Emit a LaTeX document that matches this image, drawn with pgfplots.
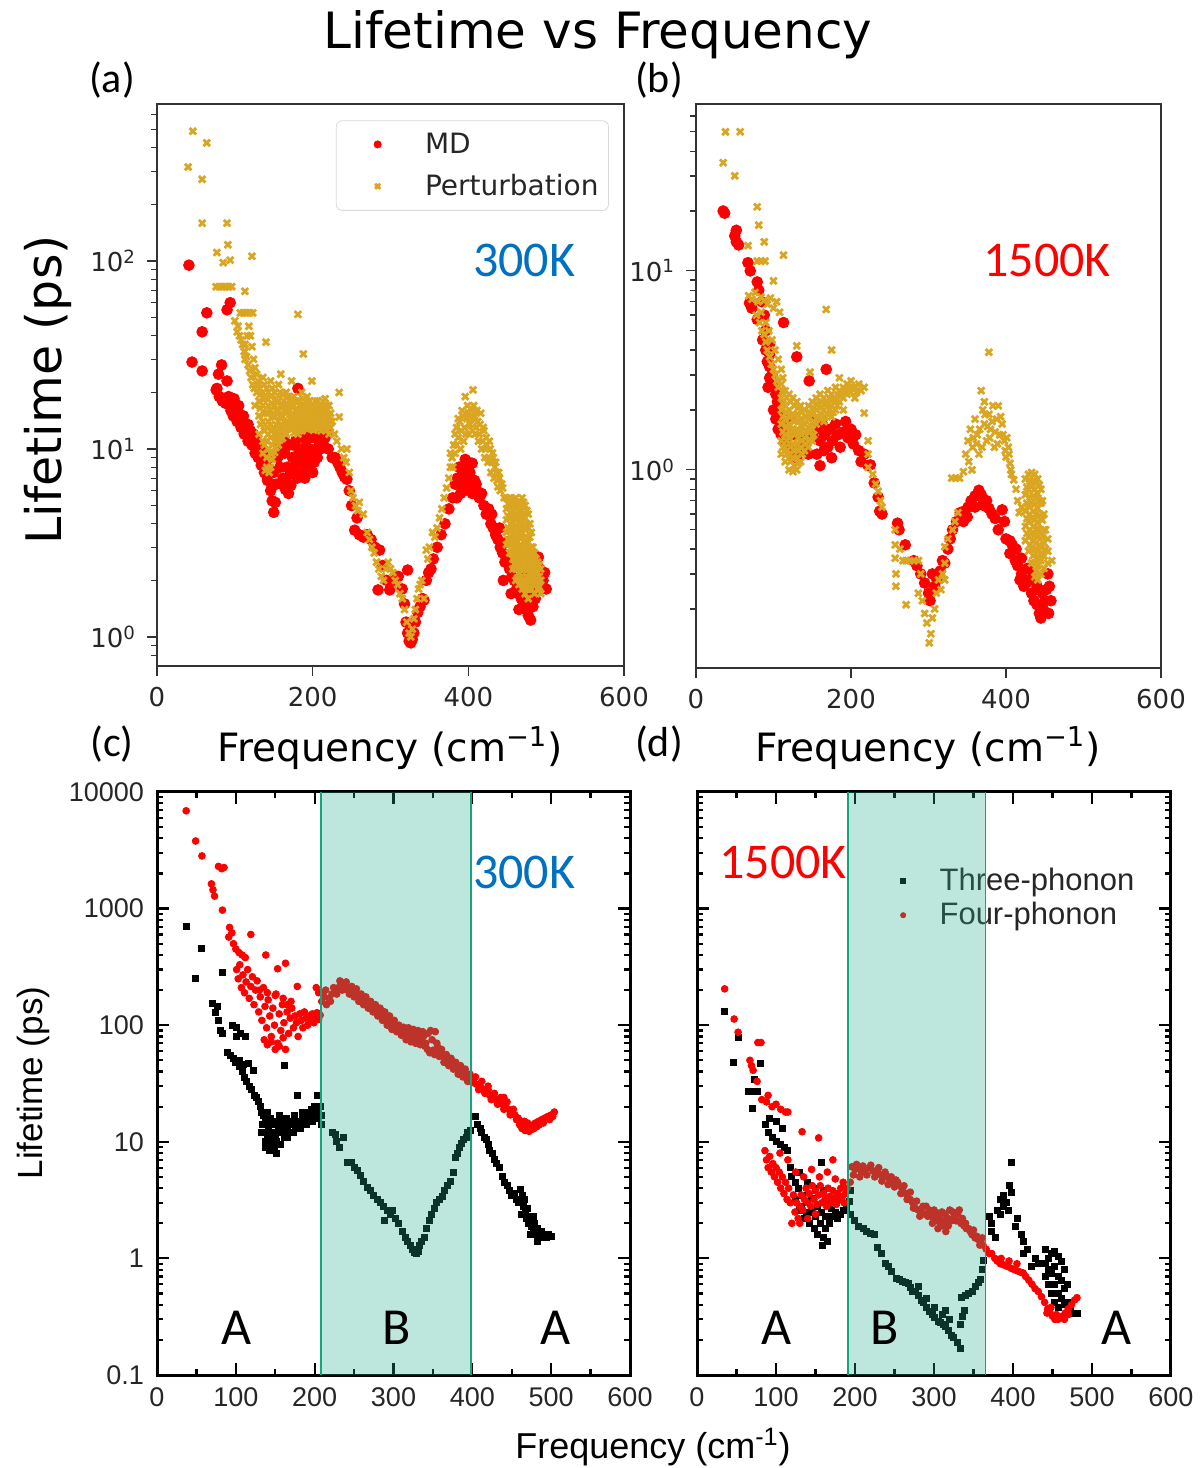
\documentclass[border=0pt]{standalone}
\usepackage{fontspec}
\setmainfont{DejaVu Sans}
\newfontfamily\calfont{Carlito}
\newfontfamily\arifont{Liberation Sans}
\usepackage{pgfplots}
\pgfplotsset{compat=1.18}
\definecolor{mdred}{RGB}{255,0,0}
\definecolor{gold}{RGB}{218,165,32}
\definecolor{kblue}{RGB}{0,112,192}
\definecolor{band}{RGB}{38,172,138}
\definecolor{bandedge}{RGB}{20,165,125}
\begin{document}
\begin{tikzpicture}
\useasboundingbox (0,0) rectangle (601.5pt,734pt);
% ---------- (a) ----------
\begin{axis}[scale only axis, anchor=south west, at={(78.5pt,401pt)}, width=233.5pt, height=281pt,
  ymode=log, xmin=0, xmax=600, ymin=0.701, ymax=684,
  xtick={0,200,400,600}, tick align=outside, xtick pos=left, ytick pos=left,
  major tick length=5pt, minor tick length=3pt,
  axis line style={black!80, line width=0.7pt},
  tick style={black!80, line width=0.6pt},
  ticklabel style={font=\fontsize{13}{13}\selectfont, black!85},
  xticklabel style={yshift=-2pt}, yticklabel style={xshift=-2pt},
  /pgf/number format/assume math mode=true,
  ytick={1,10,100},
  yticklabels={10\textsuperscript{0},10\textsuperscript{1},10\textsuperscript{2}},
  minor ytick={0.8,0.9,2,3,4,5,6,7,8,9,20,30,40,50,60,70,80,90,200,300,400,500,600},
  legend style={at={(0.383,0.971)}, anchor=north west, draw=black!15, rounded corners=3pt,
    fill=white, font=\fontsize{14}{16}\selectfont, text=black!85, row sep=5pt,
    inner xsep=3pt, inner ysep=4pt},
  legend cell align=left,
  legend image code/.code={\path (0pt,0pt) (38pt,0pt); \draw[mark repeat=2,mark phase=2,#1,mark size=1.8pt] plot coordinates {(0pt,0pt)(17pt,0pt)(34pt,0pt)};}]
\addplot[only marks, mark=*, mark size=2.7pt, color=mdred] coordinates {
(41,95)(45,29)(58,42)(58,26)(64,53)(90,55)(94,60)(83,28)(79,25)(90,23)(77,21)(76,20.6)(181,21)
(80,19)(84,18)(88,17.5)(92,19)(95,16)(98,15)(100,17)(103,14)(105,15.5)(108,13)(110,14.5)(112,12)(115,13)(117,11)(120,12.5)(122,10.5)(124,12)(126,9.5)(128,11)(130,9)(132,10)(134,8.2)(136,9.5)(138,7.5)(140,8.5)(142,6.8)(144,7.8)(146,6)(148,5.3)(150,4.6)(152,5.2)(147,6.5)(141,7.2)(135,9)(129,10)(123,11.5)(117,13.5)(111,15)(105,17)(99,18.5)
(155,9)(158,8)(160,10)(162,7)(164,9.5)(165,6.1)(167,8)(169,5.8)(170,10.5)(172,7.5)(174,9)(176,8)(178,11)(180,7)(182,9.5)(184,8.5)(186,10)(188,7.5)(190,9)(192,11)(194,8)(196,10)(198,9)(200,11.5)(202,8.5)(204,10)(206,9)(208,11)(210,10)(212,12)(214,10.5)(216,11.5)(218,12.2)(220,10)(157,11)(163,11.5)(175,10.5)(185,11.8)(195,12)(205,12.5)(150,7.5)(153,6.5)(145,9)(160,6.5)(166,7)(172,6.4)(178,7.5)(190,7)(200,7.5)
(225,9)(229,9)(232,8.5)(235,8)(238,7.5)(241,7.1)(244,6.9)(247,6)(250,5)(254,3.7)(257,4.3)(260,3.5)(265,3.4)(270,3.5)(275,3.3)(280,3.0)(284,1.78)(286,2.9)(290,2.4)(295,2.0)(299,1.78)(305,2.0)(310,2.1)(315,1.8)(318,1.5)(320,1.2)(322,1.05)(324,0.95)(326,0.93)(328,0.97)(330,1.05)(332,1.2)(335,1.35)(338,1.45)(341,1.6)(343,1.57)(346,2.0)(349,2.2)(352,2.3)(322,2.27)(355,2.6)(360,3.0)(365,3.5)(370,4.0)(375,4.8)(380,5.5)(383,6.5)(386,7)(390,6.5)(393,7.5)(396,8.8)(399,8.0)(402,7.5)(405,8.4)(408,6.8)(411,6.0)(414,5.5)(417,5.8)(420,5.0)(423,4.5)(426,4.8)(429,4.0)(432,3.8)(435,3.5)(438,3.3)(441,3.0)(444,2.8)(447,2.5)(450,2.7)(453,2.3)(456,2.1)(459,2.0)(462,1.8)(465,1.7)(468,1.6)(471,1.5)(474,1.4)(477,1.3)(480,1.23)(483,1.45)(486,1.6)(490,2.66)(492,2.3)(494,2.1)(496,2.0)(498,2.2)(500,1.8)(488,1.9)(484,1.7)(470,2.2)(460,2.5)(450,3.2)(440,3.8)(430,4.5)(445,2.0)(455,1.7)(465,1.4)(475,1.6)(478,1.9)
(385,5.5)(390,5.8)(395,6)(400,6.5)(405,5.8)(410,6.5)(395,7)(388,8)(400,8.5)
};
\addlegendentry{MD}
\addplot[only marks, mark=x, mark size=2.3pt, line width=1.4pt, color=gold] coordinates {
(40,316)(46,490)(58,272)(64,425)(58,159)(90,159)(91,122)(77,111)(85,98)(94,101)(122,106)(76,73)(80,73)(84,73)(88,73)(92,73)(96,73)(113,69)(107,53)(111,53)(115,53)(119,53)(123,53)(181,52)(104,45)(120,40)(140,37)(113,36)(113,33)(113,30)(188,32)(159,25)(173,23)(199,23)(234,20)(193,19)
(100,48)(103,42)(106,40)(108,38)(110,36)(112,33)(115,31)(117,28)(119,26)(121,24)(123,22)(125,21)(118,45)(116,40)(122,35)(124,30)(126,27)(128,25)(130,23)(132,21)
(131,22)(131,18)(131,15)(131,12)
(136,24)(136,20)(136,17)(136,14)(136,11)(136,9.5)
(141,21)(141,18.5)(141,15.5)(141,13)(141,11)(141,9)(141,8)
(146,23)(146,19)(146,16)(146,13.5)(146,11.5)(146,9.5)(146,8)
(151,20)(151,17)(151,14.8)(151,12.8)(151,11)(151,9.6)
(156,22)(156,18)(156,16)(156,14)(156,12)(156,10.5)
(161,19.5)(161,17)(161,15)(161,13)(161,11.4)
(166,20)(166,17.5)(166,15.5)(166,13.5)(166,12)
(171,18)(171,16)(171,14.5)(171,13)
(176,19)(176,17)(176,15)(176,13.5)(176,12.2)
(181,18)(181,16)(181,14.5)(181,13)(181,12)
(186,20)(186,17)(186,15)(186,13.5)(186,12.5)
(191,17)(191,15.5)(191,14)(191,13)
(196,18)(196,16)(196,14.5)(196,13.2)
(201,17)(201,15)(201,13.8)(201,12.6)
(206,18)(206,16.5)(206,14.5)(206,13)
(211,17)(211,15.5)(211,14)(211,12.5)
(216,18.5)(216,16)(216,14.5)(216,13)
(221,17)(221,15)(221,13.5)(221,12)
(133,19.5)(133,13.5)(138,22)(138,18.5)(138,15.5)(138,10.5)(143,20)(143,17)(143,14)(143,12)(148,21)(148,15)(148,12.5)(148,10.5)(148,8.8)(153,18.5)(153,16)(153,11.8)(153,10.2)(158,20)(158,17)(158,13)(158,11.2)(163,18)(163,16)(163,14)(168,19)(168,16.5)(168,12.8)(173,18.5)(173,15)(173,13.5)(178,18)(178,16)(178,12.8)(183,17)(183,14)(183,12.5)(188,18.5)(188,16)(188,12.8)(193,17.5)(193,14.5)(193,13)(198,17)(198,15.5)(198,12.8)(203,18)(203,14.5)(203,13)(208,17)(208,15.5)(208,12.8)(213,18)(213,15)(213,13.2)(218,17)(218,15.5)(218,12.6)(223,15.5)(223,14)
(133,16.5)(138,12.5)(143,10)(148,17.5)(153,13.5)(158,15)(163,12.2)(168,14)(173,16.8)(178,14)(183,15.5)(188,13.8)(193,16)(198,14)(203,16)(208,14)(213,16.5)(218,14)(223,13)(128,20)(126,17)(139,7.7)(144,7.5)
(225,14)(228,12)(231,11)(234,14.8)(237,10)(240,9)(243,8.5)(244,10)(247,7.5)(249,6.0)(252,5.5)(255,5.0)(258,4.7)(260,5.2)(265,4.5)(270,3.6)(273,3.3)(276,3.0)(279,2.8)(282,2.5)(285,2.3)(288,2.1)(291,2.0)(294,2.3)(297,2.5)(300,2.3)(303,2.2)(306,2.0)(309,1.9)(312,1.7)(315,1.6)(318,1.4)(321,1.2)(324,1.05)(326,1.0)(328,1.1)(330,1.25)(332,1.4)(334,1.6)(336,1.8)(338,1.9)(340,2.0)(343,1.6)(346,2.9)(348,2.6)(350,3.0)(354,3.6)(357,3.4)(360,3.8)(363,4.3)(366,4.8)(369,5.5)(372,6.2)(375,7)(377,8)(379,9)(381,10.5)(383,12)(385,13)(387,11.5)(389,14)(391,12.5)(393,15)(395,13)(396,19)(398,14.5)(400,15.5)(402,13.5)(404,14.5)(406,20.6)(408,15)(410,13)(412,14)(414,12)(416,15.5)(418,11)(420,12.5)(422,10)(424,10.5)(426,9)(428,10)(430,8.5)(432,9)(434,8)(436,7.5)(438,6.3)(440,7)(443,6.5)(446,5.5)
(377,9.5)(380,8)(383,9.5)(385,10.5)(387,14.5)(390,10)(392,16)(394,11)(397,12)(399,17)(401,12)(403,16.5)(405,12.5)(407,17)(409,12)(411,16)(413,11)(415,13.5)(417,10)(419,13)(421,9)(423,11.5)(425,8.5)(427,11)(429,7.5)(431,9.5)(433,7)(435,8.5)(437,6.8)(439,7.5)(441,6)(444,6.2)
(449,5.5)(449,4.8)(449,4.2)(449,3.6)(449,3.1)
(453,5.5)(453,4.9)(453,4.3)(453,3.7)(453,3.2)(453,2.8)
(457,5.4)(457,4.7)(457,4.1)(457,3.5)(457,3.0)(457,2.6)(457,2.3)
(461,5.5)(461,4.8)(461,4.2)(461,3.6)(461,3.1)(461,2.7)(461,2.3)(461,2.0)
(465,5.3)(465,4.6)(465,4.0)(465,3.4)(465,2.9)(465,2.5)(465,2.2)(465,1.9)
(469,5.5)(469,4.7)(469,4.0)(469,3.4)(469,2.9)(469,2.5)(469,2.1)(469,1.8)
(473,5.0)(473,4.3)(473,3.7)(473,3.1)(473,2.7)(473,2.3)(473,2.0)(473,1.7)
(477,4.5)(477,3.8)(477,3.2)(477,2.7)(477,2.3)(477,2.0)(477,1.8)(477,1.6)
(481,3.6)(481,3.0)(481,2.6)(481,2.3)(481,2.0)(481,1.8)
(485,2.8)(485,2.4)(485,2.1)(485,1.9)(485,1.7)
(489,2.5)(489,2.2)(489,2.0)(489,1.8)
(493,2.3)(493,2.0)(493,1.7)
(451,5.1)(451,4.4)(451,3.8)(451,3.3)(455,5.1)(455,4.4)(455,3.8)(455,3.3)(455,2.8)(459,5.1)(459,4.4)(459,3.8)(459,3.3)(459,2.8)(459,2.45)(463,5.0)(463,4.3)(463,3.7)(463,3.2)(463,2.7)(463,2.35)(463,2.05)(467,5.0)(467,4.3)(467,3.7)(467,3.1)(467,2.7)(467,2.3)(467,2.0)(471,5.2)(471,4.4)(471,3.8)(471,3.2)(471,2.7)(471,2.3)(471,1.95)(475,4.7)(475,4.0)(475,3.4)(475,2.9)(475,2.5)(475,2.1)(475,1.8)(479,4.0)(479,3.4)(479,2.9)(479,2.5)(479,2.15)(479,1.85)(483,3.0)(483,2.6)(483,2.2)(483,1.9)(487,2.6)(487,2.25)(487,1.95)(491,2.4)(491,2.1)(491,1.85)
};
\addlegendentry{Perturbation}
\end{axis}

% ---------- (b) ----------
\begin{axis}[scale only axis, anchor=south west, at={(348pt,400pt)}, width=232.5pt, height=282pt,
  ymode=log, xmin=0, xmax=600, ymin=0.101, ymax=69,
  xtick={0,200,400,600}, tick align=outside, xtick pos=left, ytick pos=left,
  major tick length=5pt, minor tick length=3pt,
  axis line style={black!80, line width=0.7pt},
  tick style={black!80, line width=0.6pt},
  ticklabel style={font=\fontsize{13}{13}\selectfont, black!85},
  xticklabel style={yshift=-2pt}, yticklabel style={xshift=-2pt},
  /pgf/number format/assume math mode=true,
  ytick={1,10},
  yticklabels={10\textsuperscript{0},10\textsuperscript{1}},
  minor ytick={0.2,0.3,0.4,0.5,0.6,0.7,0.8,0.9,2,3,4,5,6,7,8,9,20,30,40,50,60}]
\addplot[only marks, mark=*, mark size=2.7pt, color=mdred] coordinates {
(35,20)(37,19.5)(52,16)(50,15)(52,14)(55,13.5)(67,11)(70,10)(79,8.8)(81,8)(69,6.9)(72,6.5)(79,5.7)(113,5.5)(95,4.3)(95,3.8)(95,3.3)(95,2.9)(92,3.5)(98,3.0)(130,3.7)(146,2.8)(168,3.2)(103,2.4)(100,2.6)(105,2.2)(85,7)(88,6)(90,5)(86,4.5)(90,4.0)(93,2.6)
(100,2.0)(103,1.8)(106,1.6)(108,1.9)(110,1.5)(112,1.7)(115,1.4)(118,1.6)(120,1.3)(125,1.2)(130,1.15)(135,1.3)(128,1.5)(122,1.8)(140,1.4)(145,1.2)(150,1.5)(153,1.8)(156,1.6)(160,1.4)(163,1.7)(166,1.5)(170,1.3)(173,1.6)(176,1.4)(180,1.7)(183,1.5)(186,1.3)(190,1.55)(193,1.75)(196,1.45)(200,1.6)(203,1.35)(206,1.5)(210,1.25)(213,1.1)(217,1.2)(222,1.05)(225,1.06)(156,1.2)(165,1.25)(175,1.15)(160,1.05)
(230,0.86)(235,0.73)(237,0.62)(240,0.6)(260,0.54)(262,0.5)(270,0.42)(281,0.35)(285,0.33)(290,0.30)(295,0.27)(300,0.24)(302,0.22)(305,0.3)(308,0.26)(311,0.28)(315,0.31)(318,0.35)(321,0.34)(325,0.4)(328,0.45)(331,0.5)(336,0.55)(341,0.61)(346,0.62)(351,0.65)(355,0.7)(360,0.74)(365,0.79)(368,0.75)(370,0.71)(372,0.66)(375,0.7)(378,0.64)(382,0.6)(386,0.57)(390,0.5)(395,0.63)(398,0.55)(400,0.45)(405,0.38)(408,0.42)(412,0.35)(415,0.33)(418,0.28)(420,0.3)(423,0.26)(426,0.27)(430,0.28)(433,0.24)(436,0.22)(440,0.21)(443,0.19)(445,0.18)(448,0.2)(450,0.22)(452,0.25)(454,0.30)(456,0.26)(458,0.22)(455,0.19)(447,0.24)(440,0.26)(435,0.3)(428,0.32)(420,0.36)(413,0.40)(405,0.44)(360,0.65)(350,0.58)(345,0.55)
};
\addplot[only marks, mark=x, mark size=2.3pt, line width=1.4pt, color=gold] coordinates {
(38,50)(57,50)(35,35)(50,30)(79,21)(81,17)(88,14)(67,13.4)(113,12)(79,11.2)(84,11.2)(89,11.2)(100,8.9)(68,7.5)(72,7.2)(76,7.8)(80,7.0)(84,7.4)(88,7.1)(92,6.8)(96,7.3)(100,6.5)(104,7.0)(108,6.2)(168,6.4)(130,4.2)(175,4.0)(147,3.1)(185,2.9)(217,2.6)
(78,6.0)(82,5.5)(85,5.0)(88,4.8)(90,4.4)(92,4.0)(95,3.7)(97,3.4)(100,3.2)(102,3.0)(104,2.8)(106,2.6)(84,6.2)(90,5.5)(94,5.0)(98,4.5)(102,4.0)(106,3.6)(110,3.2)(112,2.9)
(110,2.7)(110,2.3)(110,2.0)(110,1.7)(110,1.4)(110,1.2)
(115,2.5)(115,2.1)(115,1.8)(115,1.5)(115,1.3)(115,1.1)
(120,2.4)(120,2.0)(120,1.7)(120,1.45)(120,1.2)(120,1.0)
(125,2.3)(125,1.9)(125,1.6)(125,1.35)(125,1.15)(125,0.98)
(130,2.2)(130,1.9)(130,1.6)(130,1.35)(130,1.15)(130,1.0)
(135,2.1)(135,1.8)(135,1.55)(135,1.3)(135,1.1)
(140,2.0)(140,1.7)(140,1.45)(140,1.25)
(145,2.1)(145,1.8)(145,1.55)(145,1.3)
(150,2.2)(150,1.9)(150,1.6)(150,1.4)
(155,2.3)(155,2.0)(155,1.7)
(160,2.4)(160,2.05)(160,1.8)
(165,2.3)(165,2.0)(165,1.75)
(170,2.5)(170,2.15)(170,1.9)
(175,2.4)(175,2.1)(175,1.85)
(180,2.6)(180,2.25)(180,2.0)
(185,2.5)(185,2.2)
(190,2.6)(190,2.3)(190,2.0)
(195,2.7)(195,2.4)
(200,2.8)(200,2.45)
(205,2.6)(205,2.3)
(210,2.7)(217,1.93)(222,1.4)(222,1.2)(222,1.03)
(112,2.5)(112,2.15)(112,1.85)(112,1.55)(112,1.3)(117,2.3)(117,1.95)(117,1.65)(117,1.4)(117,1.2)(122,2.2)(122,1.85)(122,1.55)(122,1.3)(122,1.1)(127,2.1)(127,1.75)(127,1.5)(127,1.25)(127,1.05)(132,2.05)(132,1.75)(132,1.45)(132,1.25)(132,1.08)(137,1.95)(137,1.65)(137,1.4)(137,1.2)(142,1.85)(142,1.57)(142,1.35)(147,1.95)(147,1.68)(147,1.42)(152,2.05)(152,1.75)(152,1.5)(157,2.15)(157,1.85)(162,2.2)(162,1.9)(167,2.15)(167,1.85)(172,2.3)(172,2.0)(177,2.25)(177,1.95)(182,2.4)(182,2.1)(187,2.35)(192,2.45)(197,2.55)(202,2.6)(207,2.45)(213,2.5)
(228,0.95)(232,0.85)(235,0.78)(238,0.7)(240,0.65)(257,0.50)(257,0.42)(257,0.36)(258,0.30)(258,0.26)(263,0.4)(267,0.35)(271,0.35)(276,0.35)(281,0.35)(287,0.35)(271,0.21)(290,0.30)(287,0.24)(292,0.22)(295,0.19)(298,0.17)(301,0.135)(303,0.15)(305,0.18)(308,0.2)(310,0.24)(313,0.28)(316,0.25)(318,0.3)(321,0.41)(321,0.34)(321,0.28)(325,0.45)(331,0.5)(334,0.55)(338,0.61)(330,0.91)(335,0.91)(340,0.91)(345,0.98)(348,1.2)(351,1.4)(354,1.6)(357,1.3)(360,1.8)(363,1.5)(365,1.2)(368,2.5)(370,2.0)(372,1.7)(375,1.4)(378,1.9)(380,1.6)(383,2.1)(385,1.3)(388,1.8)(390,2.1)(392,1.5)(395,1.7)(398,1.4)(400,1.16)(403,1.3)(405,1.08)(407,0.95)(410,0.89)(413,0.8)(415,0.7)(417,0.61)(420,0.65)(378,3.9)(372,2.2)
(352,1.1)(356,1.0)(358,1.45)(362,1.35)(366,1.6)(369,1.3)(373,1.9)(376,1.65)(379,1.45)(382,1.75)(386,1.55)(389,1.35)(393,1.85)(396,1.5)(399,1.25)(401,1.45)(404,1.2)(406,1.0)
(425,0.9)(425,0.75)(425,0.62)(425,0.52)(425,0.44)
(429,0.95)(429,0.8)(429,0.66)(429,0.55)(429,0.46)(429,0.39)
(433,0.97)(433,0.82)(433,0.68)(433,0.57)(433,0.48)(433,0.40)(433,0.34)
(437,0.95)(437,0.8)(437,0.67)(437,0.56)(437,0.47)(437,0.40)(437,0.34)(437,0.29)
(441,0.9)(441,0.76)(441,0.64)(441,0.54)(441,0.46)(441,0.39)(441,0.33)(441,0.28)
(445,0.8)(445,0.68)(445,0.57)(445,0.48)(445,0.41)(445,0.35)(445,0.30)
(449,0.6)(449,0.5)(449,0.43)(449,0.37)(449,0.32)
(454,0.45)(454,0.39)(454,0.34)(459,0.35)
(427,0.82)(427,0.68)(427,0.57)(427,0.48)(431,0.88)(431,0.73)(431,0.6)(431,0.5)(431,0.42)(435,0.88)(435,0.74)(435,0.62)(435,0.52)(435,0.44)(435,0.37)(439,0.86)(439,0.72)(439,0.6)(439,0.5)(439,0.43)(439,0.36)(439,0.31)(443,0.84)(443,0.7)(443,0.59)(443,0.5)(443,0.42)(443,0.36)(447,0.7)(447,0.56)(447,0.46)(447,0.38)(451,0.5)(451,0.4)
};
\end{axis}

% ---------- (c) ----------
\begin{axis}[scale only axis, anchor=south west, at={(78.5pt,46.5pt)}, width=236.5pt, height=291.5pt,
  ymode=log, xmin=0, xmax=600, ymin=0.1, ymax=10000,
  xtick={0,100,200,300,400,500,600}, minor xtick={50,150,250,350,450,550},
  ytick={0.1,1,10,100,1000,10000}, yticklabels={0.1,1,10,100,1000,10000},
  minor ytick={0.2,0.3,0.4,0.5,0.6,0.7,0.8,0.9,2,3,4,5,6,7,8,9,20,30,40,50,60,70,80,90,200,300,400,500,600,700,800,900,2000,3000,4000,5000,6000,7000,8000,9000},
  tick align=inside, xtick pos=both, ytick pos=both,
  major tick length=6pt, minor tick length=3pt,
  axis line style={black, line width=1.5pt},
  tick style={black, line width=1.1pt},
  ticklabel style={font=\arifont\fontsize{13.5}{14}\selectfont, black!85},
  xticklabel style={yshift=-3pt}, yticklabel style={xshift=-3pt},
  /pgf/number format/assume math mode=true]
\addplot[only marks, mark=*, mark size=1.7pt, color=mdred] coordinates {
(37,6900)(49,3800)(57,2830)(78,2300)(82,2200)(85,2250)(69,1630)(71,1450)(73,1280)(83,970)(92,690)(95,620)(91,570)(97,500)(100,450)(104,420)(108,400)(112,380)(119,600)(138,400)(163,340)(153,305)(178,215)(202,210)(205,190)
(101,300)(103,250)(105,330)(107,210)(109,270)(111,190)(113,235)(115,300)(117,170)(119,215)(121,260)(123,150)(125,200)(127,240)(129,130)(131,175)(133,110)(135,210)(137,145)(139,95)(141,165)(143,120)(145,80)(147,140)(149,100)(151,185)(153,70)(155,125)(157,90)(159,150)(161,105)(163,62)(165,130)(167,85)(169,115)(171,140)(173,95)(175,120)(177,105)(179,80)(181,125)(183,110)(185,95)(187,130)(189,115)(191,100)(193,120)(195,110)(197,125)(199,105)(201,118)(203,128)(205,112)(207,122)(136,75)(140,68)(145,72)(150,62)(155,66)(160,78)(130,200)(140,190)(150,180)(160,170)(165,150)(170,160)
(209,160)(212,175)(215,150)(218,170)(222,185)(226,200)(230,210)(233,220)(236,230)(239,215)(242,200)(245,205)(248,190)(251,195)(254,180)(257,175)(260,165)(263,170)(266,150)(269,155)(272,140)(275,145)(278,130)(281,135)(284,125)(287,118)(290,120)(293,110)(296,105)(299,100)(302,95)(305,98)(308,90)(311,92)(314,85)(317,80)(320,88)(323,82)(326,75)(329,85)(332,78)(335,72)(338,80)(341,70)(344,85)(347,90)(350,61)(353,88)(356,65)(359,60)(362,55)(365,52)(368,50)(371,48)(374,46)(377,44)(380,42)(383,40)(386,41)(389,38)(392,36)(395,34)(398,33)
(210,190)(214,200)(220,160)(224,210)(228,185)(232,240)(235,200)(240,235)(244,185)(247,215)(250,175)(253,205)(256,160)(259,185)(262,150)(265,175)(268,140)(271,160)(274,130)(277,150)(280,120)(283,140)(286,110)(289,130)(292,100)(295,120)(298,92)(301,110)(304,88)(307,100)(310,82)(313,96)(316,75)(319,95)(322,72)(325,92)(328,70)(331,90)(334,68)(337,88)(340,66)(343,62)(346,58)(349,75)(352,56)(355,70)(358,54)(361,62)(364,48)(367,56)(370,45)(373,52)(376,42)(379,48)(382,38)(385,45)(388,36)(391,42)(394,33)(397,38)
(402,32)(406,31)(410,30)(414,28)(418,27)(422,25)(426,24)(430,23)(434,22)(438,21)(442,20)(446,19)(450,18)(454,17)(458,16)(462,15)(465,14)(468,13.5)(471,13)(474,13.5)(477,14)(480,14.5)(484,15)(488,15.5)(492,16)(496,16.5)(500,17)(504,18)(466,15)(470,14.5)(478,13)(485,14)(420,28)(440,24)
(404,36)(408,28)(412,33)(416,26)(420,30)(424,23)(428,26)(432,21)(436,24)(440,19)(444,22)(448,17)(452,19)(456,15.5)(460,14)(463,13)(467,12.5)(472,12.3)(476,12.8)(482,13.5)(490,14.5)(498,15.5)(502,16.5)
};
\addplot[only marks, mark=square*, mark size=1.5pt, color=black] coordinates {
(37,710)(56,460)(49,250)(83,285)(70,155)(74,130)(76,145)(78,110)(80,90)(83,85)(96,100)(101,95)(101,80)(106,85)(112,80)(89,58)(93,55)(97,52)(100,48)(105,50)(110,46)(116,47)(122,41)(162,45)
(105,44)(108,40)(111,36)(114,33)(117,30)(120,28)(123,25)(126,24)(129,22)(131,20)(133,18)(135,17)(137,15)(139,14)(141,13)(143,12)(145,11)(147,10)(149,9)(151,8)(140,18)(144,16)(148,14)(152,12)(136,12)(138,10)(142,9)(146,9.5)(150,11)(154,13)(156,15)(158,12)(160,14)(162,11)(164,16)(166,13)(168,15)(170,12)(172,14)(174,17)(176,13)(178,25)(180,15)(182,13)(184,16)(186,14)(188,17)(190,15)(192,18)(194,16)(196,19)(198,17)(200,20)(203,25)(205,18)(207,20)(209,17)(209,14)
(132,12)(134,14)(137,9)(140,11)(143,8.5)(146,12)(149,15)(152,10)(155,17)(157,9.5)(161,12.5)(165,11)(169,14)(173,12)(177,15)(181,14)(185,18)(189,14)(193,17)(197,15)(201,18)(205,16)
(223,12)(228,10)(232,9)(236,11)(226,11.5)(241,6.7)(246,6.7)(250,6.0)(254,5.7)(258,5.2)(262,4.6)(267,4.1)(271,3.8)(275,3.5)(279,3.2)(283,3.0)(287,2.8)(288,2.1)(292,2.6)(296,2.4)(298,2.6)(302,2.2)(306,2.0)(311,1.7)(315,1.5)(318,1.4)(321,1.3)(324,1.2)(327,1.12)(329,1.1)(331,1.15)(333,1.3)(336,1.4)(339,1.5)(342,1.8)(345,2.1)(348,2.4)(352,2.7)(355,3.0)(358,3.2)(362,3.4)(365,3.8)(368,4.2)(372,4.6)(376,5.5)(378,7.4)(381,8.0)(384,9.0)(386,9.6)(389,10.5)(392,11)(394,12)(397,12.5)
(404,16.5)(407,14)(410,13)(412,12)(415,11)(418,10.4)(420,9.5)(422,8.5)(425,8)(428,7)(431,6.5)(434,6)(438,5)(441,4.5)(444,4.2)(447,3.8)(450,3.5)(453,3.6)(456,3.2)(459,3.0)(461,3.9)(463,3.5)(465,2.8)(467,2.5)(469,2.2)(471,2.0)(473,2.3)(475,1.9)(477,1.7)(479,2.0)(481,1.6)(483,1.8)(485,1.5)(488,1.7)(491,1.6)(494,1.5)(497,1.6)(500,1.55)(462,2.4)(466,3.2)(470,2.7)(474,1.6)(478,2.3)(482,1.4)
};
\end{axis}
\begin{axis}[scale only axis, anchor=south west, at={(78.5pt,46.5pt)}, width=236.5pt, height=291.5pt,
  ymode=log, xmin=0, xmax=600, ymin=0.1, ymax=10000, hide axis]
\addplot[draw=none, fill=band, fill opacity=0.3] coordinates {(208,0.1)(398,0.1)(398,10000)(208,10000)} -- cycle;
\addplot[bandedge, line width=0.8pt] coordinates {(208,0.1)(208,10000)};
\addplot[bandedge, line width=0.8pt] coordinates {(398,0.1)(398,10000)};
\end{axis}

% ---------- (d) ----------
\begin{axis}[scale only axis, anchor=south west, at={(348.5pt,46.5pt)}, width=237pt, height=291.5pt,
  ymode=log, xmin=0, xmax=600, ymin=0.1, ymax=10000,
  xtick={0,100,200,300,400,500,600}, minor xtick={50,150,250,350,450,550},
  ytick={0.1,1,10,100,1000,10000}, yticklabels={},
  minor ytick={0.2,0.3,0.4,0.5,0.6,0.7,0.8,0.9,2,3,4,5,6,7,8,9,20,30,40,50,60,70,80,90,200,300,400,500,600,700,800,900,2000,3000,4000,5000,6000,7000,8000,9000},
  tick align=inside, xtick pos=both, ytick pos=both,
  major tick length=6pt, minor tick length=3pt,
  axis line style={black, line width=1.5pt},
  tick style={black, line width=1.1pt},
  ticklabel style={font=\arifont\fontsize{13.5}{14}\selectfont, black!85},
  xticklabel style={yshift=-3pt},
  /pgf/number format/assume math mode=true,
  legend style={at={(0.37,0.884)}, anchor=north west, draw=none, fill=none,
    font=\arifont\fontsize{15.5}{17}\selectfont, text=black!85, row sep=0.5pt},
  legend cell align=left,
  legend image code/.code={\path (0pt,0pt) (28pt,0pt); \draw[mark repeat=2,mark phase=2,#1,mark size=1.3pt] plot coordinates {(0pt,0pt)(12pt,0pt)(24pt,0pt)};}]
\addplot[only marks, mark=square*, mark size=1.5pt, color=black] coordinates {
(35,132)(52,78)(46,48)(80,47)(73,34)(65,27)(70,27)(77,27)(70,19.5)
(86,14)(90,12)(95,11)(100,10)(105,9.5)(110,9)(115,8.4)(92,16)(100,15)(108,13)(157,6.7)
(118,6)(120,5)(124,4.5)(128,4)(130,2.6)(134,3.5)(136,2.2)(140,3)(142,2.0)(145,2.5)(148,1.8)(150,2.3)(153,1.6)(156,2.0)(159,1.3)(160,1.5)(162,1.8)(165,1.4)(168,2.0)(170,2.7)(172,2.3)(175,2.5)(178,2.2)(182,2.4)(185,2.6)(189,2.7)(125,3.2)(132,2.8)(138,2.5)(145,3.3)(152,2.8)(158,2.5)(163,2.3)(130,5.5)(140,4.5)(150,4.0)(160,3.8)(165,3.2)(176,3.0)
(193,3.1)(194,3.8)(194,2.4)(199,2.1)(204,1.9)(210,1.8)(215,1.7)(220,1.65)(225,1.6)(228,1.25)(233,1.1)(238,0.91)(242,0.85)(246,0.78)(252,0.68)(256,0.66)(260,0.63)(264,0.62)(267,0.61)(270,0.56)(273,0.52)(276,0.52)(280,0.48)(284,0.44)(286,0.42)(290,0.38)(294,0.35)(298,0.33)(301,0.31)(305,0.29)(308,0.28)(312,0.27)(315,0.26)(318,0.24)(322,0.22)(325,0.21)(329,0.19)(333,0.17)(333,0.27)(336,0.32)(339,0.36)(335,0.46)(340,0.48)(344,0.5)(349,0.52)(353,0.58)(356,0.62)(359,0.66)(361,0.8)(362,0.97)(280,0.58)(290,0.45)(300,0.38)(310,0.33)(320,0.30)(315,0.36)
(373,2.0)(373,1.7)(378,1.5)(384,3.2)(384,2.4)(388,2.8)(392,3.0)(398,3.7)(398,6.6)(394,2.6)(403,1.9)(406,2.2)(410,1.6)(413,1.4)(413,1.1)(418,1.2)(423,0.85)(428,1.0)(432,0.9)(441,1.2)(441,0.9)(441,0.7)(445,1.0)(445,0.8)(445,0.6)(449,1.1)(449,0.75)(449,0.5)(453,1.15)(453,0.85)(453,0.6)(453,0.42)(457,1.05)(457,0.7)(457,0.5)(457,0.38)(461,0.95)(461,0.65)(461,0.45)(465,0.8)(465,0.55)(465,0.4)(469,0.6)(469,0.42)(473,0.36)(477,0.34)(481,0.34)(388,3.5)(395,4.2)(380,2.6)(370,2.3)
};
\addlegendentry{Three-phonon}
\addplot[only marks, mark=*, mark size=1.7pt, color=mdred] coordinates {
(35,205)(47,113)(52,87)(77,71)(81,71)(67,50)(69,45)(71,41)(76,33)(82,23)(88,22)(95,20)(100,21)(106,19)(112,18)(115,18)(90,25)(133,12.2)(154,10.8)(172,7.0)
(86,8.4)(88,7)(90,6)(92,7.5)(94,5.5)(96,6.5)(98,5)(100,6)(102,4.5)(104,5.5)(106,4)(108,5)(110,3.6)(112,4.5)(114,3.2)(116,4)(118,3.0)(120,2.0)(122,3.5)(124,2.5)(126,3.0)(128,2.2)(130,2.8)(132,3.5)(134,2.6)(136,3.2)(138,4.0)(140,3.0)(142,3.6)(144,2.8)(146,4.2)(148,3.2)(150,3.8)(152,2.9)(154,3.5)(156,4.2)(158,3.0)(160,3.6)(162,3.2)(164,2.8)(166,4.0)(168,3.4)(170,3.0)(172,3.8)(174,3.3)(176,2.9)(178,3.6)(180,3.2)(182,4.0)(184,3.4)(186,3.0)(188,3.6)(190,4.0)(105,8)(115,7)(125,5.5)(135,5)(145,5.8)(155,5)(165,5.5)(175,4.8)(185,4.5)(130,2.0)(140,2.2)(150,2.4)
(194,4.5)(196,6.1)(200,5.8)(204,6.0)(208,5.5)(213,5.7)(218,6.0)(223,5.6)(228,5.7)(232,5.2)(236,5.0)(240,5.1)(244,4.7)(248,4.5)(252,4.7)(256,4.2)(260,3.9)(264,3.6)(267,3.6)(270,3.2)(273,3.0)(276,2.7)(280,2.6)(284,2.5)(288,2.4)(292,2.3)(296,2.3)(300,2.2)(304,2.1)(308,2.0)(312,2.1)(315,2.0)(318,2.2)(322,2.1)(326,2.3)(330,2.4)(334,2.0)(338,1.9)(341,1.8)(344,1.8)(348,1.6)(352,1.5)(356,1.45)(359,1.4)(362,1.3)(290,2.8)(300,2.6)(310,2.5)(320,2.6)(305,1.8)(315,1.7)
(198,5.2)(202,6.4)(206,5.0)(210,6.2)(215,5.2)(220,6.3)(225,5.0)(230,6.0)(234,4.6)(238,5.5)(242,4.3)(246,5.0)(250,4.1)(254,4.5)(258,3.6)(262,4.2)(266,3.2)(270,3.7)(274,2.7)(278,3.1)(282,2.3)(286,2.8)(294,2.6)(298,2.0)(302,2.5)(306,2.3)(310,1.9)(314,2.4)(318,1.9)(324,2.5)(328,2.1)(332,2.6)(336,2.2)(340,2.0)(346,1.7)(350,1.75)(354,1.55)(358,1.3)(361,1.5)
(366,1.2)(370,1.1)(373,1.1)(377,1.0)(380,0.95)(384,0.9)(388,0.88)(392,0.86)(394,0.85)(398,0.82)(402,0.8)(406,0.78)(410,0.76)(413,0.75)(416,0.7)(420,0.65)(424,0.6)(428,0.55)(432,0.52)(436,0.47)(440,0.42)(444,0.37)(447,0.34)(450,0.32)(453,0.30)(457,0.30)(460,0.31)(463,0.32)(466,0.34)(470,0.37)(474,0.40)(478,0.44)(481,0.46)(455,0.33)(448,0.38)(443,0.34)(465,0.30)(470,0.33)(385,1.0)(395,0.95)(405,0.9)
};
\addlegendentry{Four-phonon}
\end{axis}
\begin{axis}[scale only axis, anchor=south west, at={(348.5pt,46.5pt)}, width=237pt, height=291.5pt,
  ymode=log, xmin=0, xmax=600, ymin=0.1, ymax=10000, hide axis]
\addplot[draw=none, fill=band, fill opacity=0.3] coordinates {(191,0.1)(365,0.1)(365,10000)(191,10000)} -- cycle;
\addplot[bandedge, line width=0.8pt] coordinates {(191,0.1)(191,10000)};
\addplot[bandedge, line width=0.8pt] coordinates {(365,0.1)(365,10000)};
\end{axis}

% ---------- titles and labels ----------
\node[font=\fontsize{25}{26}\selectfont] at (299pt,716.5pt) {Lifetime vs Frequency};
\node[font=\calfont\fontsize{21}{22}\selectfont] at (56pt,694pt) {(a)};
\node[font=\calfont\fontsize{21}{22}\selectfont] at (329.5pt,694pt) {(b)};
\node[font=\calfont\fontsize{21}{22}\selectfont] at (56pt,362pt) {(c)};
\node[font=\calfont\fontsize{21}{22}\selectfont] at (329.5pt,362pt) {(d)};
\node[font=\fontsize{24.5}{26}\selectfont, rotate=90] at (24pt,539pt) {Lifetime (ps)};
\node[font=\fontsize{19.5}{20}\selectfont] at (195pt,360pt) {Frequency (cm\textsuperscript{−1})};
\node[font=\fontsize{19.5}{20}\selectfont] at (464pt,360pt) {Frequency (cm\textsuperscript{−1})};
\node[font=\arifont\fontsize{17.5}{18}\selectfont, rotate=90] at (16.5pt,192.5pt) {Lifetime (ps)};
\node[font=\arifont\fontsize{18}{18}\selectfont] at (326.5pt,10.5pt) {Frequency (cm\textsuperscript{-1})};
\node[font=\calfont\fontsize{25}{26}\selectfont, text=kblue] at (262pt,604pt) {300K};
\node[font=\calfont\fontsize{25}{26}\selectfont, text=mdred] at (523.5pt,604pt) {1500K};
\node[font=\calfont\fontsize{25}{26}\selectfont, text=kblue] at (262pt,298pt) {300K};
\node[font=\calfont\fontsize{25}{26}\selectfont, text=mdred] at (391.5pt,303pt) {1500K};
\node[font=\calfont\fontsize{26}{26}\selectfont] at (118.5pt,70pt) {A};
\node[font=\calfont\fontsize{26}{26}\selectfont] at (198.5pt,70pt) {B};
\node[font=\calfont\fontsize{26}{26}\selectfont] at (278pt,70pt) {A};
\node[font=\calfont\fontsize{26}{26}\selectfont] at (388.5pt,70pt) {A};
\node[font=\calfont\fontsize{26}{26}\selectfont] at (442.5pt,70pt) {B};
\node[font=\calfont\fontsize{26}{26}\selectfont] at (558.5pt,70pt) {A};
\end{tikzpicture}
\end{document}
